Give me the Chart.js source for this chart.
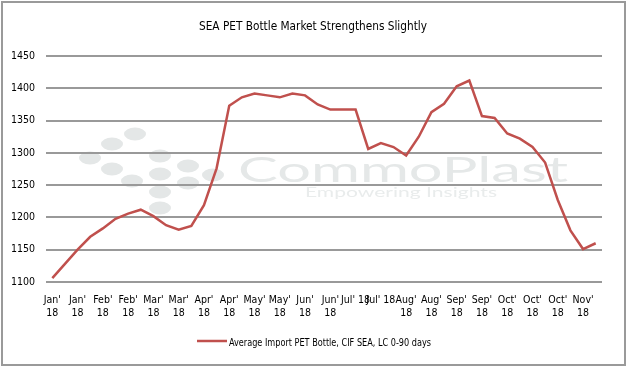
<!DOCTYPE html>
<html>
<head>
<meta charset="utf-8">
<script src="https://cdn.jsdelivr.net/npm/chart.js@4/dist/chart.umd.min.js"></script>
<style>
  html, body { margin: 0; padding: 0; background: #fff; }
  #wrap { position: relative; width: 628px; height: 370px; }
</style>
</head>
<body>
<div id="wrap"><canvas id="chart"></canvas></div>
<script>
// Chart data (weekly, labels shown on every other week)
const chartTitle = 'SEA PET Bottle Market Strengthens Slightly';
const seriesName = 'Average Import PET Bottle, CIF SEA, LC 0-90 days';
const weeks = [
    "Jan' 18", "Jan' 18", "Jan' 18", "Jan' 18", "Feb' 18", "Feb' 18", "Feb' 18", "Feb' 18",
    "Mar' 18", "Mar' 18", "Mar' 18", "Mar' 18", "Apr' 18", "Apr' 18", "Apr' 18", "Apr' 18",
    "May' 18", "May' 18", "May' 18", "May' 18", "Jun' 18", "Jun' 18", "Jun' 18", "Jun' 18",
    "Jul' 18", "Jul' 18", "Jul' 18", "Jul' 18", "Aug' 18", "Aug' 18", "Aug' 18", "Aug' 18",
    "Sep' 18", "Sep' 18", "Sep' 18", "Sep' 18", "Oct' 18", "Oct' 18", "Oct' 18", "Oct' 18",
    "Oct' 18", "Oct' 18", "Nov' 18", "Nov' 18"
];
const prices = [
    1106, 1128, 1150, 1170, 1183, 1198, 1206, 1212, 1202, 1188, 1181, 1187,
    1219, 1276, 1373, 1386, 1392, 1389, 1386, 1392, 1389, 1375, 1367, 1367,
    1367, 1306, 1315, 1309, 1296, 1325, 1363, 1376, 1403, 1412, 1357, 1354,
    1330, 1322, 1309, 1285, 1227, 1180, 1151, 1160
];
const yMin = 1100;
const yMax = 1450;
const yStep = 50;

const labelFont = "'DejaVu Sans Condensed', 'Liberation Sans', sans-serif";
const lineColor = '#c0504d';

// Watermark logo dots (decoration only)
const logoDots = [
    [135, 134], [112, 144], [90, 158], [112, 169], [132, 181], [160, 156],
    [160, 174], [160, 192], [160, 208], [188, 166], [188, 183], [213, 175]
];

// Draws text squeezed/stretched to a given width, left edge at x
function drawFittedText(ctx, text, x, y, width, font, color, baseline) {
    ctx.save();
    ctx.font = font;
    ctx.fillStyle = color;
    ctx.textBaseline = baseline || 'alphabetic';
    ctx.textAlign = 'left';
    const w = ctx.measureText(text).width;
    ctx.translate(x, y);
    ctx.scale(width / w, 1);
    ctx.fillText(text, 0, 0);
    ctx.restore();
}

const decorations = {
    id: 'decorations',
    beforeDraw(chart) {
        const ctx = chart.ctx;
        ctx.save();
        ctx.fillStyle = '#e4e7e7';
        logoDots.forEach(([x, y]) => {
            ctx.beginPath();
            ctx.ellipse(x, y, 11, 6.5, 0, 0, Math.PI * 2);
            ctx.fill();
        });
        ctx.restore();
        drawFittedText(ctx, 'CommoPlast', 238, 182, 330, "400 34px Lato, 'DejaVu Sans'", '#e5e8e8');
        drawFittedText(ctx, 'Empowering Insights', 305, 197, 192, "400 13px Lato, 'DejaVu Sans'", '#e9ecec');
    },
    afterDraw(chart) {
        const ctx = chart.ctx;
        const cx = chart.width / 2;
        // title
        const titleW = 228;
        drawFittedText(ctx, chartTitle, cx - titleW / 2 - 1, 27, titleW, '13px ' + labelFont, '#000', 'middle');
        // legend
        const legendW = 202;
        const total = 30 + 2 + legendW;
        const lx = Math.round(cx - total / 2);
        ctx.save();
        ctx.strokeStyle = lineColor;
        ctx.lineWidth = 2.5;
        ctx.beginPath();
        ctx.moveTo(lx, 341);
        ctx.lineTo(lx + 30, 341);
        ctx.stroke();
        ctx.restore();
        drawFittedText(ctx, seriesName, lx + 32, 343, legendW, '11px ' + labelFont, '#000', 'middle');
        // frame
        ctx.save();
        ctx.strokeStyle = '#9a9a9a';
        ctx.lineWidth = 2;
        ctx.strokeRect(2, 2, 623, 363);
        ctx.restore();
    }
};

function initializeChart() {
    const ctx = document.getElementById('chart').getContext('2d');
    new Chart(ctx, {
        type: 'line',
        data: {
            labels: weeks,
            datasets: [{
                label: seriesName,
                data: prices,
                borderColor: lineColor,
                borderWidth: 2.5,
                pointRadius: 0,
                tension: 0,
                fill: false
            }]
        },
        options: {
            responsive: true,
            maintainAspectRatio: false,
            animation: false,
            layout: {
                padding: { left: 0, top: 56, right: 26, bottom: 48 }
            },
            plugins: {
                legend: { display: false },
                title: { display: false },
                tooltip: { enabled: false }
            },
            scales: {
                x: {
                    offset: true,
                    grid: { display: false, offset: true },
                    border: { display: false },
                    afterFit(scale) { scale.height = 40; },
                    ticks: {
                        autoSkip: false,
                        maxRotation: 0,
                        minRotation: 0,
                        padding: 4,
                        color: '#000',
                        font: { family: labelFont, size: 10.5, lineHeight: 1.2 },
                        callback(value, index) {
                            if (index % 2 !== 0) return '';
                            const label = weeks[index];
                            return label.startsWith('Jul') ? label : label.split(' ');
                        }
                    }
                },
                y: {
                    min: yMin,
                    max: yMax,
                    afterFit(scale) { scale.width = 46; },
                    border: { display: false },
                    grid: {
                        color: '#999',
                        lineWidth: 2,
                        drawTicks: false
                    },
                    ticks: {
                        stepSize: yStep,
                        padding: 11,
                        color: '#000',
                        font: { family: labelFont, size: 10.5 },
                        callback: (value) => String(value)
                    }
                }
            }
        },
        plugins: [decorations]
    });
}

document.addEventListener('DOMContentLoaded', initializeChart);
</script>
</body>
</html>
